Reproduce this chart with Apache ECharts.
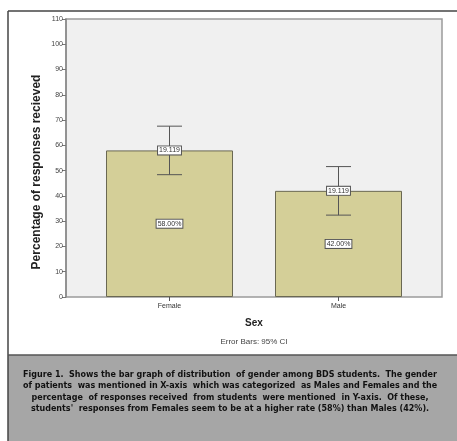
<!DOCTYPE html>
<html>
<head>
<meta charset="utf-8">
<script src="https://cdn.jsdelivr.net/npm/echarts@6/dist/echarts.min.js"></script>
<style>
  html, body { margin: 0; padding: 0; background: #fff; }
  #chart { width: 457px; height: 441px; }
</style>
</head>
<body>
<div id="chart"></div>
<script>
// data
const categories = ['Female', 'Male'];
const percentValues = [58, 42];
const ciLower = [48.4, 32.4];
const ciUpper = [67.6, 51.6];
const ciLabels = ['19.119', '19.119'];
const yTicks = [0, 110, 10]; // min, max, step

const captionLines = [
  'Figure 1.  Shows the bar graph of distribution  of gender among BDS students.  The gender',
  'of patients  was mentioned in X-axis  which was categorized  as Males and Females and the',
  'percentage  of responses received  from students  were mentioned  in Y-axis.  Of these,',
  'students\'  responses from Females seem to be at a higher rate (58%) than Males (42%).'
];

const chart = echarts.init(document.getElementById('chart'));

const labelFont = 'Liberation Sans, Arial, sans-serif';

const option = {
  backgroundColor: '#fff',
  animation: false,
  grid: [
    // plot frame
    { left: 66, right: 15, top: 19, bottom: 144, show: true, backgroundColor: '#f0f0f0', borderColor: '#9a9a9a', borderWidth: 1.5 },
    // bars
    { left: 85, right: 34, top: 19, bottom: 144 }
  ],
  xAxis: [
    { gridIndex: 0, type: 'category', data: categories, show: false },
    {
      gridIndex: 1,
      type: 'category',
      data: categories,
      axisLine: { show: false },
      axisTick: { show: true, alignWithLabel: true, length: 4, lineStyle: { color: '#555' } },
      axisLabel: { fontSize: 7, color: '#333', margin: 6, fontFamily: labelFont },
      name: 'Sex',
      nameLocation: 'middle',
      nameGap: 21,
      nameTextStyle: { fontSize: 10, fontWeight: 'bold', color: '#222', fontFamily: labelFont }
    }
  ],
  yAxis: [
    {
      gridIndex: 0,
      type: 'value',
      min: yTicks[0],
      max: yTicks[1],
      interval: yTicks[2],
      axisLine: { show: true, lineStyle: { color: '#888', width: 1.5 } },
      axisTick: { show: true, length: 4, lineStyle: { color: '#777' } },
      axisLabel: { fontSize: 7, color: '#444', margin: 3, fontFamily: labelFont },
      splitLine: { show: false }
    },
    { gridIndex: 1, type: 'value', min: yTicks[0], max: yTicks[1], show: false }
  ],
  series: [
    {
      type: 'bar',
      xAxisIndex: 1,
      yAxisIndex: 1,
      data: percentValues,
      barWidth: 127,
      itemStyle: { color: '#d4cf98', borderColor: '#6a6852', borderWidth: 1 },
      label: {
        show: true,
        position: 'inside',
        formatter: p => p.value.toFixed(2) + '%',
        fontSize: 7,
        color: '#333',
        fontFamily: labelFont,
        backgroundColor: '#fff',
        borderColor: '#555',
        borderWidth: 1,
        padding: [1, 1, 0, 1]
      }
    },
    {
      type: 'custom',
      xAxisIndex: 1,
      yAxisIndex: 1,
      data: categories.map((c, i) => [i, ciLower[i], ciUpper[i], percentValues[i]]),
      z: 5,
      renderItem: (params, api) => {
        const lo = api.coord([api.value(0), api.value(1)]);
        const hi = api.coord([api.value(0), api.value(2)]);
        const mid = api.coord([api.value(0), api.value(3)]);
        const half = 12.5;
        const ls = { stroke: '#555', lineWidth: 1 };
        return {
          type: 'group',
          children: [
            { type: 'line', shape: { x1: lo[0], y1: lo[1], x2: hi[0], y2: hi[1] }, style: ls },
            { type: 'line', shape: { x1: lo[0] - half, y1: lo[1], x2: lo[0] + half, y2: lo[1] }, style: ls },
            { type: 'line', shape: { x1: hi[0] - half, y1: hi[1], x2: hi[0] + half, y2: hi[1] }, style: ls },
            {
              type: 'text',
              z2: 10,
              style: {
                x: mid[0], y: mid[1],
                text: ciLabels[params.dataIndex],
                align: 'center', verticalAlign: 'middle',
                fontSize: 7, fontFamily: labelFont, fill: '#333',
                backgroundColor: '#fff', borderColor: '#555', borderWidth: 1,
                padding: [1, 1, 0, 1]
              }
            }
          ]
        };
      }
    }
  ],
  graphic: [
    // outer frame
    { type: 'line', shape: { x1: 8, y1: 11, x2: 457, y2: 11 }, style: { stroke: '#444', lineWidth: 1.5 } },
    { type: 'line', shape: { x1: 8, y1: 11, x2: 8, y2: 441 }, style: { stroke: '#444', lineWidth: 1.5 } },
    // caption panel
    { type: 'rect', shape: { x: 8, y: 355, width: 449, height: 86 }, style: { fill: '#a6a6a6' }, z: -1 },
    { type: 'line', shape: { x1: 8, y1: 355, x2: 457, y2: 355 }, style: { stroke: '#555', lineWidth: 1.5 } },
    {
      type: 'text',
      x: 37, y: 172, rotation: Math.PI / 2,
      style: {
        text: 'Percentage of responses recieved',
        align: 'center', verticalAlign: 'middle',
        fontSize: 12, fontWeight: 'bold', fill: '#222', fontFamily: labelFont
      }
    },
    {
      type: 'text',
      x: 254, y: 342,
      style: {
        text: 'Error Bars: 95% CI',
        align: 'center', verticalAlign: 'middle',
        fontSize: 8, fill: '#444', fontFamily: labelFont
      }
    },
    {
      type: 'text',
      x: 230, y: 392,
      style: {
        text: captionLines.join('\n'),
        align: 'center', verticalAlign: 'middle',
        fontSize: 8, fontWeight: 'bold', fill: '#111', lineHeight: 11.3,
        fontFamily: 'DejaVu Sans, Verdana, sans-serif'
      }
    }
  ]
};

chart.setOption(option);
</script>
</body>
</html>
